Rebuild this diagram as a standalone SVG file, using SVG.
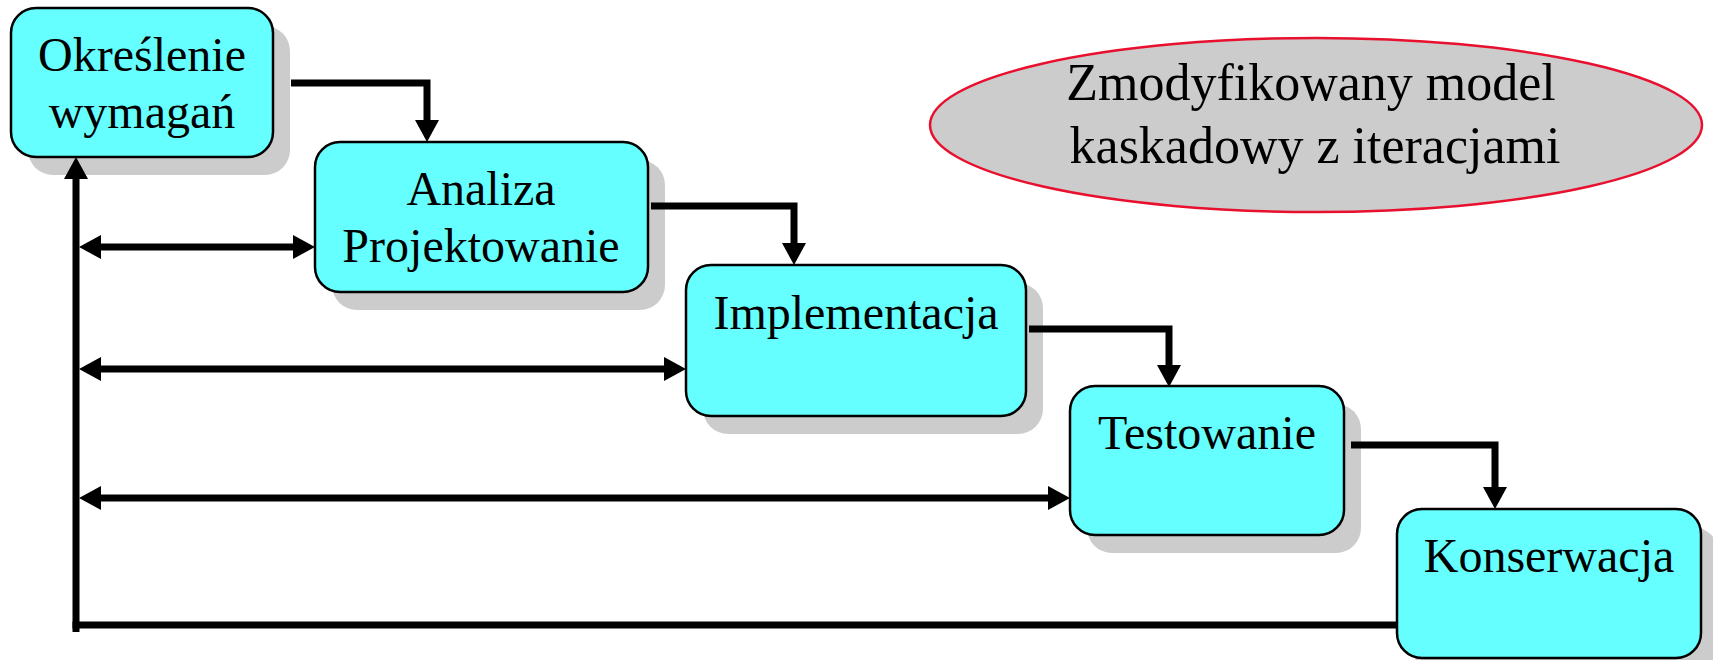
<svg xmlns="http://www.w3.org/2000/svg" width="1713" height="660" viewBox="0 0 1713 660">
<style>
.shadow{fill:#cccccc;stroke:none}
.box{fill:#66ffff;stroke:#000;stroke-width:2.5}
.lbl{font-family:"Liberation Serif","Times New Roman",serif;font-size:48px;fill:#000;text-anchor:middle}
.title{font-family:"Liberation Serif","Times New Roman",serif;font-size:52px;fill:#000;text-anchor:middle}
.conn{fill:none;stroke:#000;stroke-width:7}
</style>
<defs>
<marker id="ah" markerUnits="userSpaceOnUse" markerWidth="22" markerHeight="24" refX="0" refY="12" orient="auto-start-reverse" viewBox="0 0 22 24">
<path d="M0,0 L22,12 L0,24 z" fill="#000"/>
</marker>
</defs>
<rect width="1713" height="660" fill="#fff"/>
<g id="title">
<ellipse cx="1316" cy="125" rx="386" ry="87" fill="#cccccc" stroke="#e8102e" stroke-width="2.5"/>
<text class="title" x="1311" y="100">Zmodyfikowany model</text>
<text class="title" x="1315" y="163">kaskadowy z iteracjami</text>
</g>
<g id="node-okreslenie">
<rect class="shadow" x="28" y="26" width="262" height="149" rx="25"/>
<rect class="box" x="11" y="8" width="262" height="149" rx="25"/>
<text class="lbl" x="142" y="71">Określenie</text>
<text class="lbl" x="142" y="128">wymagań</text>
</g>
<g id="node-analiza">
<rect class="shadow" x="332" y="160" width="333" height="150" rx="25"/>
<rect class="box" x="315" y="142" width="333" height="150" rx="25"/>
<text class="lbl" x="481" y="205">Analiza</text>
<text class="lbl" x="481" y="262">Projektowanie</text>
</g>
<g id="node-implementacja">
<rect class="shadow" x="703" y="283" width="340" height="151" rx="25"/>
<rect class="box" x="686" y="265" width="340" height="151" rx="25"/>
<text class="lbl" x="856" y="329">Implementacja</text>
</g>
<g id="node-testowanie">
<rect class="shadow" x="1087" y="404" width="274" height="149" rx="25"/>
<rect class="box" x="1070" y="386" width="274" height="149" rx="25"/>
<text class="lbl" x="1207" y="449">Testowanie</text>
</g>
<g id="node-konserwacja">
<rect class="shadow" x="1414" y="527" width="304" height="149" rx="25"/>
<rect class="box" x="1397" y="509" width="304" height="149" rx="25"/>
<text class="lbl" x="1549" y="572">Konserwacja</text>
</g>
<g id="connectors">
<path class="conn" d="M291,83 H427 V120" marker-end="url(#ah)"/>
<path class="conn" d="M651,206 H794 V243" marker-end="url(#ah)"/>
<path class="conn" d="M1029,329 H1169 V365" marker-end="url(#ah)"/>
<path class="conn" d="M1351,445 H1495 V487" marker-end="url(#ah)"/>
<path class="conn" d="M76,632 V179" marker-end="url(#ah)"/>
<path class="conn" d="M72.5,625 H1397"/>
<path class="conn" d="M101,247 H293" marker-start="url(#ah)" marker-end="url(#ah)"/>
<path class="conn" d="M101,369 H664" marker-start="url(#ah)" marker-end="url(#ah)"/>
<path class="conn" d="M101,498 H1048" marker-start="url(#ah)" marker-end="url(#ah)"/>
</g>
</svg>
